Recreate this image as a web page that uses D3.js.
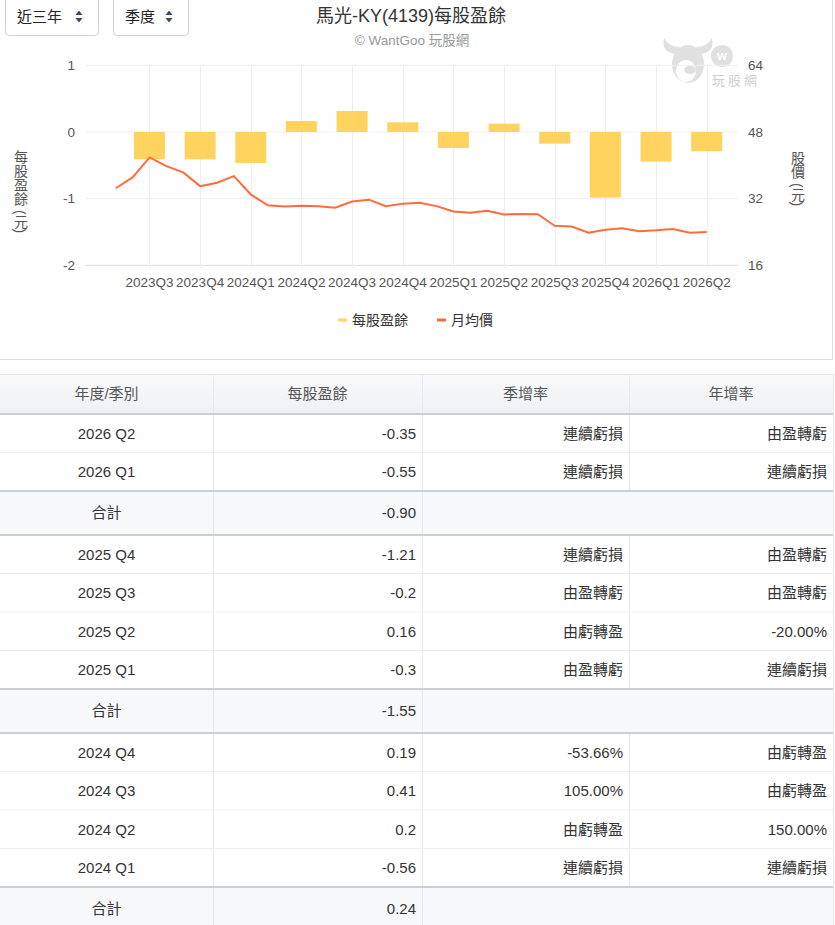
<!DOCTYPE html>
<html><head><meta charset="utf-8">
<script src="https://cdn.jsdelivr.net/npm/d3@7"></script>
<style>
html,body{margin:0;padding:0;background:#fff;}
svg{display:block;font-family:"Liberation Sans","Noto Sans CJK TC",Arial,sans-serif;}
</style></head>
<body>
<svg id="c" width="835" height="925"></svg>
<script>
const quarters = ["2023Q3","2023Q4","2024Q1","2024Q2","2024Q3","2024Q4","2025Q1","2025Q2","2025Q3","2025Q4","2026Q1","2026Q2"];
const epsBars = [-0.41,-0.41,-0.465,0.165,0.315,0.145,-0.24,0.125,-0.175,-0.985,-0.445,-0.29];
const months = ["2023-07","2023-08","2023-09","2023-10","2023-11","2023-12","2024-01","2024-02","2024-03","2024-04","2024-05","2024-06","2024-07","2024-08","2024-09","2024-10","2024-11","2024-12","2025-01","2025-02","2025-03","2025-04","2025-05","2025-06","2025-07","2025-08","2025-09","2025-10","2025-11","2025-12","2026-01","2026-02","2026-03","2026-04","2026-05","2026-06"];
const monthlyPrice = [34.5,37.1,41.9,39.8,38.3,35.0,35.8,37.4,33.0,30.4,30.1,30.3,30.2,29.8,31.3,31.75,30.2,30.8,31.0,30.2,28.9,28.6,29.1,28.2,28.3,28.25,25.5,25.3,23.8,24.55,24.9,24.2,24.4,24.7,23.8,24.0];
const epsTicks = [-2,-1,0,1];
const priceTicks = [16,32,48,64];
const tableHeader = ["年度/季別","每股盈餘","季增率","年增率"];
const tablePeriods = ["2026 Q2","2026 Q1","合計","2025 Q4","2025 Q3","2025 Q2","2025 Q1","合計","2024 Q4","2024 Q3","2024 Q2","2024 Q1","合計"];
const tableEps = ["-0.35","-0.55","-0.90","-1.21","-0.2","0.16","-0.3","-1.55","0.19","0.41","0.2","-0.56","0.24"];
const tableQoQ = ["連續虧損","連續虧損","","連續虧損","由盈轉虧","由虧轉盈","由盈轉虧","","-53.66%","105.00%","由虧轉盈","連續虧損",""];
const tableYoY = ["由盈轉虧","連續虧損","","由盈轉虧","由盈轉虧","-20.00%","連續虧損","","由虧轉盈","由虧轉盈","150.00%","連續虧損",""];

const svg = d3.select("#c");
const BAR = "#FFD35E", LINE = "#FF6B3D";

// card border
svg.append("path").attr("d","M0,359.5H832.5V0").attr("fill","none").attr("stroke","#ddd");

// selects
function selectBox(x0,x1,label){
  const g = svg.append("g");
  g.append("path").attr("d",`M${x0+0.5},-2V31.5Q${x0+0.5},35.5 ${x0+4.5},35.5H${x1-4.5}Q${x1-0.5},35.5 ${x1-0.5},31.5V-2`)
   .attr("fill","#fff").attr("stroke","#d0d0d0");
  g.append("text").attr("x",x0+12).attr("y",22).attr("font-size",15).attr("fill","#222").text(label);
  const ix = x1-20;
  g.append("path").attr("d",`M${ix-3.5},15L${ix},10.5L${ix+3.5},15Z M${ix-3.5},18L${ix},22.5L${ix+3.5},18Z`).attr("fill","#3a4a5e");
}
selectBox(5,99,"近三年");
selectBox(113,189,"季度");

// title
svg.append("text").attr("x",411).attr("y",22).attr("text-anchor","middle").attr("font-size",18).attr("fill","#333").text("馬光-KY(4139)每股盈餘");
svg.append("text").attr("x",412).attr("y",45).attr("text-anchor","middle").attr("font-size",13.5).attr("fill","#999").text("© WantGoo 玩股網");

// watermark
const WM = "#e0e0e0";
const wm = svg.append("g").attr("fill",WM);
wm.append("path").attr("d","M675,54 Q661,52 664,38 Q669,47 680,47 Z");
wm.append("path").attr("d","M701,54 Q715,52 712,38 Q707,47 696,47 Z");
wm.append("ellipse").attr("cx",688).attr("cy",64).attr("rx",16).attr("ry",19);
wm.append("ellipse").attr("cx",686).attr("cy",71).attr("rx",10).attr("ry",11).attr("fill","#fff");
wm.append("ellipse").attr("cx",690).attr("cy",70).attr("rx",6).attr("ry",4).attr("fill",WM);
wm.append("circle").attr("cx",679).attr("cy",61).attr("r",1.6).attr("fill",WM);
wm.append("circle").attr("cx",722).attr("cy",56).attr("r",11);
wm.append("text").attr("x",722).attr("y",60).attr("text-anchor","middle").attr("font-size",13).attr("font-weight","bold").attr("fill","#fff").text("w");
svg.append("text").attr("x",712).attr("y",85).attr("font-size",13).attr("fill","#cfcfcf").attr("letter-spacing",3).text("玩股網");

// scales
const pTop = 65.3, pBottom = 265.3, pLeft = 85, pRight = 738.3;
const x = d3.scalePoint().domain(months).range([115.7,706.7]);
const yL = d3.scaleLinear().domain([-2,1]).range([pBottom,pTop]);
const yR = d3.scaleLinear().domain([16,64]).range([pBottom,pTop]);
const qx = i => x(months[2+3*i]);

// grid
svg.append("g").selectAll("line").data(epsTicks).join("line")
  .attr("x1",pLeft).attr("x2",pRight).attr("y1",d=>yL(d)).attr("y2",d=>yL(d))
  .attr("stroke",d=>d===-2?"#ddd":"#eee");
svg.append("g").selectAll("line").data(quarters).join("line")
  .attr("x1",(d,i)=>Math.round(qx(i))+0.5).attr("x2",(d,i)=>Math.round(qx(i))+0.5)
  .attr("y1",pTop).attr("y2",pBottom+3).attr("stroke","#eee");

// axis labels
svg.append("g").selectAll("text").data(epsTicks).join("text")
  .attr("x",75).attr("y",d=>yL(d)).attr("dy","0.35em").attr("text-anchor","end")
  .attr("font-size",13.5).attr("fill","#555").text(d=>d);
svg.append("g").selectAll("text").data(priceTicks).join("text")
  .attr("x",748).attr("y",d=>yR(d)).attr("dy","0.35em")
  .attr("font-size",13.5).attr("fill","#555").text(d=>d);
svg.append("g").selectAll("text").data(quarters).join("text")
  .attr("x",(d,i)=>qx(i)).attr("y",287).attr("text-anchor","middle")
  .attr("font-size",13.5).attr("fill","#555").text(d=>d);
svg.append("text").attr("x",20).attr("y",150).attr("font-size",14).attr("fill","#555")
  .style("writing-mode","vertical-rl").text("每股盈餘 (元)");
svg.append("text").attr("x",797).attr("y",151).attr("font-size",14).attr("fill","#555")
  .style("writing-mode","vertical-rl").text("股價 (元)");

// bars
const bw = 31;
svg.append("g").selectAll("rect").data(epsBars).join("rect")
  .attr("x",(d,i)=>qx(i)-bw/2).attr("width",bw)
  .attr("y",d=>Math.min(yL(d),yL(0))).attr("height",d=>Math.abs(yL(d)-yL(0)))
  .attr("fill",BAR);

// line
svg.append("path").datum(monthlyPrice)
  .attr("d",d3.line().x((d,i)=>x(months[i])).y(d=>yR(d)))
  .attr("fill","none").attr("stroke",LINE).attr("stroke-width",2);

// legend
svg.append("rect").attr("x",338).attr("y",318.5).attr("width",9).attr("height",3).attr("fill",BAR);
svg.append("text").attr("x",352).attr("y",325).attr("font-size",14).attr("fill","#333").text("每股盈餘");
svg.append("rect").attr("x",437).attr("y",318.5).attr("width",9).attr("height",3).attr("fill",LINE);
svg.append("text").attr("x",451).attr("y",325).attr("font-size",14).attr("fill","#333").text("月均價");

// table
const colX = [0,213,422,629,833];
const tableTop = 374, headH = 40;
const rowHeights = tablePeriods.map(p=>p==="合計"?44:38.5);
const defs = svg.append("defs");
const gr = defs.append("linearGradient").attr("id","hg").attr("x1",0).attr("x2",0).attr("y1",0).attr("y2",1);
gr.append("stop").attr("offset",0).attr("stop-color","#f9fafb");
gr.append("stop").attr("offset",1).attr("stop-color","#eef0f3");
const tg = svg.append("g");
tg.append("rect").attr("x",0).attr("y",tableTop).attr("width",833).attr("height",headH).attr("fill","url(#hg)");
tg.append("line").attr("x1",0).attr("x2",833).attr("y1",tableTop+0.5).attr("y2",tableTop+0.5).attr("stroke","#e6e6e6");
tableHeader.forEach((h,j)=>{
  tg.append("text").attr("x",(colX[j]+colX[j+1])/2).attr("y",tableTop+headH/2).attr("dy","0.35em")
    .attr("text-anchor","middle").attr("font-size",15).attr("fill","#555").text(h);
});
let yy = tableTop+headH;
const rowsY = [];
rowHeights.forEach(h=>{rowsY.push(yy); yy+=h;});
tablePeriods.forEach((p,i)=>{
  if(p==="合計") tg.append("rect").attr("x",0).attr("y",rowsY[i]).attr("width",833).attr("height",rowHeights[i]).attr("fill","#f7f8fa");
});
// column dividers (header)
colX.slice(1).forEach(cx=>{
  tg.append("line").attr("x1",cx+0.5).attr("x2",cx+0.5).attr("y1",tableTop).attr("y2",tableTop+headH).attr("stroke","#e6e8eb");
});
// column dividers per row (total rows merge last two columns)
tablePeriods.forEach((p,i)=>{
  const cols = p==="合計" ? [213,422,833] : [213,422,629,833];
  cols.forEach(cx=>{
    tg.append("line").attr("x1",cx+0.5).attr("x2",cx+0.5).attr("y1",rowsY[i]).attr("y2",rowsY[i]+rowHeights[i]).attr("stroke","#e6e8eb");
  });
});
tablePeriods.forEach((p,i)=>{
  const yb = rowsY[i]+rowHeights[i];
  const heavy = p==="合計" || (tablePeriods[i+1]==="合計");
  tg.append("line").attr("x1",0).attr("x2",833).attr("y1",yb).attr("y2",yb)
    .attr("stroke",heavy?"#c9cdd4":"#eeeeee").attr("stroke-width",heavy?2:1);
});
tg.append("line").attr("x1",0).attr("x2",833).attr("y1",tableTop+headH).attr("y2",tableTop+headH).attr("stroke","#c9cdd4").attr("stroke-width",2);
tablePeriods.forEach((p,i)=>{
  const cy = rowsY[i]+rowHeights[i]/2;
  const cells = [p,tableEps[i],tableQoQ[i],tableYoY[i]];
  cells.forEach((c,j)=>{
    if(!c) return;
    const t = tg.append("text").attr("y",cy).attr("dy","0.35em").attr("font-size",15).attr("fill","#333").text(c);
    if(j===0) t.attr("x",(colX[0]+colX[1])/2).attr("text-anchor","middle");
    else t.attr("x",colX[j+1]-6).attr("text-anchor","end");
  });
});
</script>
</body></html>
